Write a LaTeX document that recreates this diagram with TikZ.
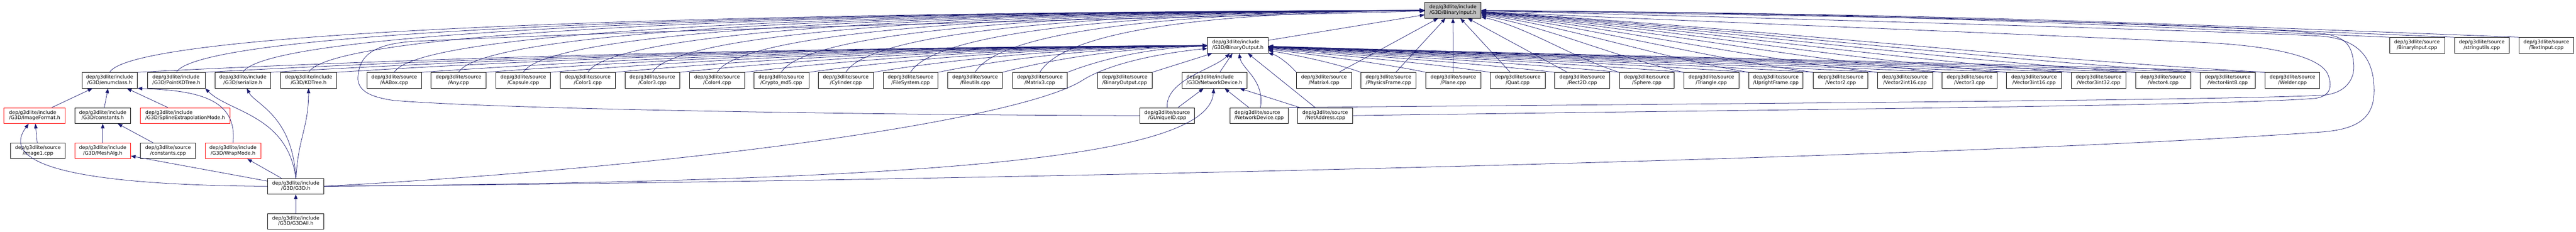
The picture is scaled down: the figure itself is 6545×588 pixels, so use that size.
\documentclass[tikz,border=0pt]{standalone}
\usepackage{fontspec}
\setmainfont{DejaVu Sans}
\usetikzlibrary{arrows.meta}
\definecolor{edgecol}{HTML}{191970}
\definecolor{rootfill}{HTML}{BFBFBF}
\definecolor{trunc}{HTML}{FF0000}
\newcommand\dlab[2]{\begin{tabular}{@{}c@{}}\multicolumn{1}{@{}l@{}}{#1}\\#2\end{tabular}}
\newcommand\gnode[7]{\node[#1,minimum width=#5pt] (#2) at (#3,#4) {\dlab{dep/g3dlite/#6}{/#7}};}
\begin{document}
\begin{tikzpicture}[x=1pt,y=1pt,
  box/.style={draw=black,line width=1pt,fill=white,rectangle,minimum height=40pt,inner sep=0pt,font=\fontsize{12.4}{14}\selectfont},
  redbox/.style={box,draw=trunc},
  rootbox/.style={box,fill=rootfill},
  e/.style={draw=edgecol,line width=1pt,-{Triangle[length=12pt,width=9pt]}}]
\path[use as bounding box,fill=white] (0,0) rectangle (6545,-588);
% row 0
\gnode{rootbox}{BI}{3691.5}{-26}{143}{include}{G3D/BinaryInput.h}
% row 1
\gnode{box}{BO}{3145}{-115}{154}{include}{G3D/BinaryOutput.h}
\gnode{box}{BIcpp}{6141}{-115}{140}{source}{BinaryInput.cpp}
\gnode{box}{STR}{6305.5}{-115}{139}{source}{stringutils.cpp}
\gnode{box}{TI}{6469.5}{-115}{139}{source}{TextInput.cpp}
% row 2
\gnode{box}{enumclass}{278.5}{-204}{141}{include}{G3D/enumclass.h}
\gnode{box}{pointkd}{448}{-204}{146}{include}{G3D/PointKDTree.h}
\gnode{box}{serialize}{617}{-204}{142}{include}{G3D/serialize.h}
\gnode{box}{kdtree}{784}{-204}{142}{include}{G3D/KDTree.h}
\gnode{box}{aabox}{1001.5}{-204}{139}{source}{AABox.cpp}
\gnode{box}{any}{1165}{-204}{140}{source}{Any.cpp}
\gnode{box}{capsule}{1329.5}{-204}{139}{source}{Capsule.cpp}
\gnode{box}{color1}{1493.5}{-204}{139}{source}{Color1.cpp}
\gnode{box}{color3}{1657.5}{-204}{139}{source}{Color3.cpp}
\gnode{box}{color4}{1822}{-204}{140}{source}{Color4.cpp}
\gnode{box}{crypto}{1985}{-204}{140}{source}{Crypto\_md5.cpp}
\gnode{box}{cylinder}{2149}{-204}{140}{source}{Cylinder.cpp}
\gnode{box}{filesystem}{2313.5}{-204}{139}{source}{FileSystem.cpp}
\gnode{box}{fileutils}{2477.5}{-204}{139}{source}{fileutils.cpp}
\gnode{box}{matrix3}{2642}{-204}{140}{source}{Matrix3.cpp}
\gnode{box}{bocpp}{2857.5}{-204}{139}{source}{BinaryOutput.cpp}
\gnode{box}{netdevh}{3085.5}{-204}{165}{include}{G3D/NetworkDevice.h}
\gnode{box}{matrix4}{3364}{-204}{140}{source}{Matrix4.cpp}
\gnode{box}{physics}{3527.5}{-204}{139}{source}{PhysicsFrame.cpp}
\gnode{box}{plane}{3692.5}{-204}{139}{source}{Plane.cpp}
\gnode{box}{quat}{3856}{-204}{140}{source}{Quat.cpp}
\gnode{box}{rect2d}{4020}{-204}{140}{source}{Rect2D.cpp}
\gnode{box}{sphere}{4184}{-204}{140}{source}{Sphere.cpp}
\gnode{box}{triangle}{4348}{-204}{140}{source}{Triangle.cpp}
\gnode{box}{upright}{4512}{-204}{138}{source}{UprightFrame.cpp}
\gnode{box}{vector2}{4676.5}{-204}{139}{source}{Vector2.cpp}
\gnode{box}{vector2i16}{4840}{-204}{140}{source}{Vector2int16.cpp}
\gnode{box}{vector3}{5004}{-204}{140}{source}{Vector3.cpp}
\gnode{box}{vector3i16}{5168}{-204}{140}{source}{Vector3int16.cpp}
\gnode{box}{vector3i32}{5332}{-204}{140}{source}{Vector3int32.cpp}
\gnode{box}{vector4}{5496}{-204}{140}{source}{Vector4.cpp}
\gnode{box}{vector4i8}{5660}{-204}{140}{source}{Vector4int8.cpp}
\gnode{box}{welder}{5824.5}{-204}{139}{source}{Welder.cpp}
% row 3
\gnode{redbox}{imageformat}{88}{-293.5}{156}{include}{G3D/ImageFormat.h}
\gnode{box}{constantsh}{261}{-293.5}{142}{include}{G3D/constants.h}
\gnode{redbox}{spline}{470.5}{-293.5}{227}{include}{G3D/SplineExtrapolationMode.h}
\gnode{box}{guid}{2965.5}{-293.5}{139}{source}{GUniqueID.cpp}
\gnode{box}{netdevcpp}{3199}{-293.5}{148}{source}{NetworkDevice.cpp}
\gnode{box}{netaddr}{3367}{-293.5}{140}{source}{NetAddress.cpp}
% row 4
\gnode{box}{image1}{96.5}{-383}{139}{source}{Image1.cpp}
\gnode{redbox}{meshalg}{261}{-383}{142}{include}{G3D/MeshAlg.h}
\gnode{box}{constantscpp}{427}{-383}{140}{source}{constants.cpp}
\gnode{redbox}{wrapmode}{592}{-383}{142}{include}{G3D/WrapMode.h}
% row 5, 6
\gnode{box}{g3d}{751.5}{-473}{143}{include}{G3D/G3D.h}
\gnode{box}{g3dall}{751.5}{-562}{143}{include}{G3D/G3DAll.h}

% ---- edges: left group to BinaryInput.h and BinaryOutput.h
\foreach \n/\d in {enumclass/3341,pointkd/3172,serialize/3003,kdtree/2836,aabox/2618,any/2455,capsule/2290,color1/2126,color3/1962,color4/1798,crypto/1635,cylinder/1471,filesystem/1306,fileutils/1142,matrix3/978}{
  \draw[e] (\n.north) .. controls +(60,100) and +({-0.6*\d-70},-6) .. (BI);
}
\foreach \n/\d in {enumclass/2719,pointkd/2547,serialize/2380,kdtree/2213,aabox/1997,any/1833,capsule/1669,color1/1505,color3/1341,color4/1176,crypto/1013,cylinder/849,filesystem/685,fileutils/521,matrix3/356}{
  \draw[e] (\n.north east) .. controls +({0.25*\d},35) and +({-0.4*\d-77},-6) .. (BO);
}
% right group to BinaryInput.h
\foreach \n in {matrix4,physics,plane,quat,rect2d}{
  \draw[e] (\n) -- (BI);
}
\foreach \n/\d in {sphere/351,triangle/515,upright/680,vector2/844,vector2i16/1007,vector3/1171,vector3i16/1335,vector3i32/1499,vector4/1663,vector4i8/1827,welder/1992}{
  \draw[e] (\n.north west) .. controls +({-0.35*\d},40) and +({0.35*\d+70},-45) .. (BI);
}
% right group to BinaryOutput.h
\foreach \n/\d in {matrix4/72,physics/236,plane/401,quat/564,rect2d/728,sphere/892,triangle/1056,upright/1221,vector2/1385,vector2i16/1548,vector3/1712,vector3i16/1876,vector3i32/2040,vector4/2204,vector4i8/2368,welder/2533}{
  \draw[e] (\n.north west) .. controls +({-0.3*\d},25) and +({0.3*\d+77},-25) .. (BO);
}
% row 1 sources
\foreach \n/\d in {BIcpp/2308,STR/2473,TI/2637}{
  \draw[e] (\n.north west) .. controls +({-0.4*\d},40) and +({0.45*\d+70},-10) .. (BI);
}
\draw[e] (BO) -- (BI);
\draw[e] (bocpp.north east) -- (BO);
\draw[e] (netdevh) -- (BO);
% network cluster
\draw[e] (guid) -- (netdevh);
\draw[e] (guid.north) .. controls +(-5,70) and +(-60,-60) .. (BO);
\draw[e] (netdevcpp) -- (netdevh);
\draw[e] (netdevcpp) .. controls +(15,90) and +(10,-60) .. (BO);
\draw[e] (netaddr) -- (netdevh);
\draw[e] (netaddr) -- (BO);
% detours
\draw[e] (guid.west) .. controls (2400,-293) and (1300,-280) .. (1000,-255)
  .. controls (930,-245) and (905,-225) .. (910,-190)
  .. controls (915,-140) and (950,-112) .. (1050,-105)
  .. controls (1800,-70) and (3000,-45) .. (BI);
\draw[e] (netdevcpp.north east) .. controls (4500,-262) and (5600,-255) .. (5900,-242)
  .. controls (5960,-238) and (5985,-200) .. (5980,-160)
  .. controls (5975,-110) and (5955,-93) .. (5900,-85)
  .. controls (5500,-50) and (4300,-36) .. (BI);
\draw[e] (netaddr.east) .. controls (4500,-278) and (5600,-270) .. (5880,-250)
  .. controls (5925,-245) and (5925,-215) .. (5915,-190)
  .. controls (5900,-150) and (5800,-118) .. (5600,-108)
  .. controls (5000,-80) and (4200,-50) .. (BI);
\draw[e] (g3d.east) .. controls (2500,-460) and (5000,-400) .. (5900,-335)
  .. controls (5990,-328) and (6032,-300) .. (6032,-230)
  .. controls (6032,-150) and (5995,-100) .. (5900,-92)
  .. controls (5800,-84) and (4400,-42) .. (BI);
% G3D.h
\draw[e] (g3d.east) .. controls (1800,-420) and (2600,-300) .. (2750,-204)
  .. controls (2820,-160) and (2950,-135) .. (BO);
\draw[e] (g3d.east) .. controls (2400,-460) and (3070,-400) .. (netdevh);
\draw[e] (g3d) -- (wrapmode);
\draw[e] (g3d) -- (meshalg);
\draw[e] (g3d.north) .. controls +(-20,160) and +(60,-60) .. (pointkd.south east);
\draw[e] (g3d.north) .. controls +(-8,160) and +(30,-60) .. (serialize);
\draw[e] (g3d) .. controls +(5,120) and +(0,-120) .. (kdtree);
\draw[e] (g3d.west) .. controls (200,-470) and (-5,-420) .. (imageformat);
\draw[e] (g3dall) -- (g3d);
% left cluster
\draw[e] (imageformat) -- (enumclass);
\draw[e] (constantsh) -- (enumclass);
\draw[e] (spline) -- (enumclass);
\draw[e] (wrapmode.north) .. controls +(12,113) and +(150,-5) .. (enumclass.south east);
\draw[e] (image1) -- (imageformat);
\draw[e] (meshalg) -- (constantsh);
\draw[e] (constantscpp) -- (constantsh);
\end{tikzpicture}
\end{document}
